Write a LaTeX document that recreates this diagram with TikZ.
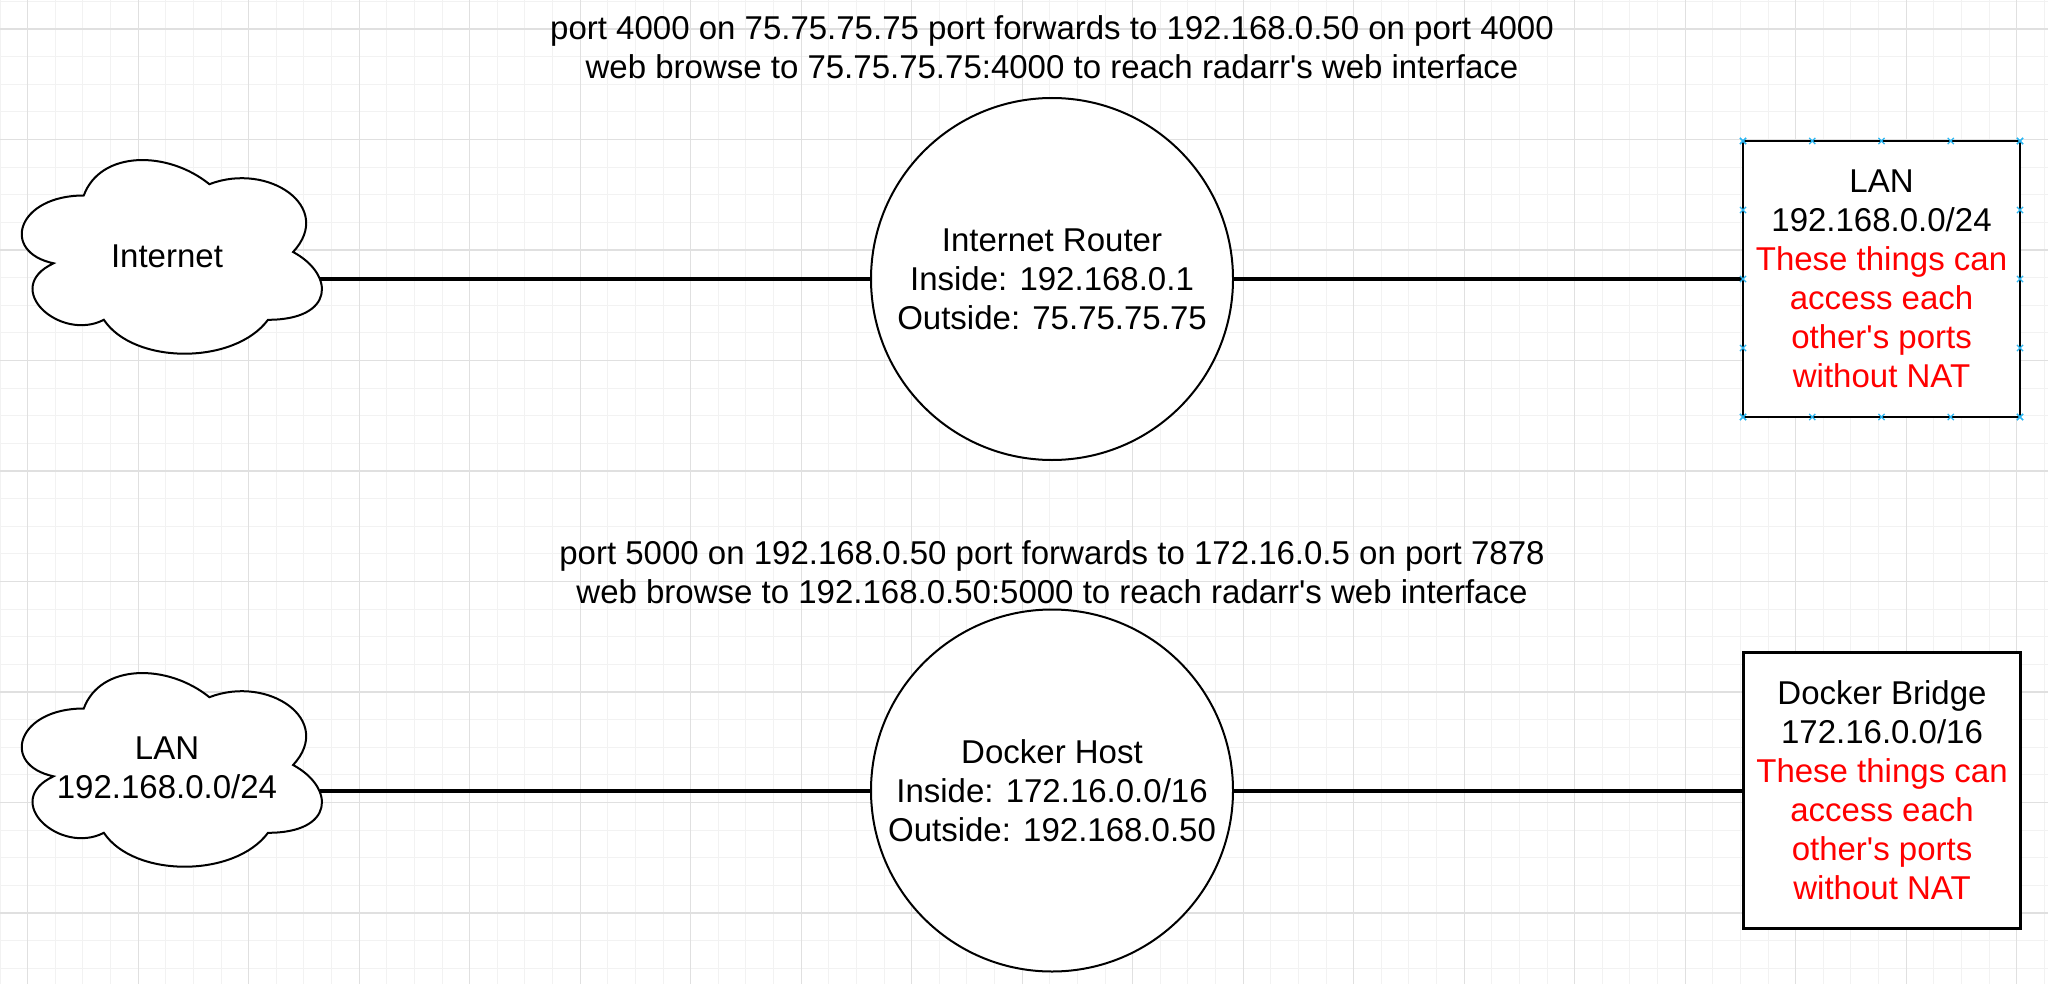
\documentclass[tikz,border=0pt]{standalone}
\usepackage{fontspec}
\newfontfamily\drawfont{Liberation Sans}
\usetikzlibrary{calc,shapes.misc}
\definecolor{selblue}{HTML}{29B6F2}
\tikzset{
  x=0.5pt, y=-0.5pt,
}
\tikzstyle{every node}=[font=\drawfont\fontsize{16.5}{19.5}\selectfont, align=center]
\tikzstyle{minorgrid}=[line width=0.5pt, black!5]
\tikzstyle{majorgrid}=[line width=0.7pt, black!12]
\tikzstyle{link}=[line width=2pt]
\tikzstyle{hub}=[draw, circle, line width=1pt, fill=white, minimum size=181pt, inner sep=0pt]
\tikzstyle{netbox}=[draw, line width=1.3pt, fill=white, minimum width=138.5pt, minimum height=138pt, inner sep=0pt, outer sep=0pt]
\tikzstyle{handle}=[draw=selblue, cross out, line width=0.6pt, minimum size=2.5pt, inner sep=0pt]

\newcommand{\nonat}{\textcolor{red}{These things can}\\\textcolor{red}{access each}\\
  \textcolor{red}{other\textquotesingle s ports}\\\textcolor{red}{without NAT}}

% draw.io style cloud, #1,#2 = top left of its box
\newcommand{\netcloud}[2]{%
  \draw[line width=1pt, fill=white, shift={(#1,#2)}] (83.75,56.5)
    .. controls (16.75,56.5) and (0,113) .. (53.6,124.3)
    .. controls (0,149.2) and (60.3,203.4) .. (103.85,180.8)
    .. controls (134,226) and (234.5,226) .. (268,180.8)
    .. controls (335,180.8) and (335,135.6) .. (293.1,113)
    .. controls (335,67.8) and (268,22.6) .. (209.4,45.2)
    .. controls (167.5,11.3) and (100.5,11.3) .. (83.75,56.5) -- cycle;}

\begin{document}
\begin{tikzpicture}
  \useasboundingbox (0,0) rectangle (2048,984);
  \fill[white] (0,0) rectangle (2048,984);
  % grid
  \foreach \i in {0,...,74} \draw[minorgrid] ({0.075+27.625*\i},0) -- ({0.075+27.625*\i},984);
  \foreach \j in {0,...,35} \draw[minorgrid] (0,{1.375+27.625*\j}) -- (2048,{1.375+27.625*\j});
  \foreach \i in {0,...,18} \draw[majorgrid] ({27.7+110.5*\i},0) -- ({27.7+110.5*\i},984);
  \foreach \j in {0,...,8} \draw[majorgrid] (0,{29+110.5*\j}) -- (2048,{29+110.5*\j});

  % top: internet side
  \node (fwdtop) at (1052,47.5) {port 4000 on 75.75.75.75 port forwards to 192.168.0.50 on port 4000\\
    web browse to 75.75.75.75:4000 to reach radarr's web interface};
  \netcloud{0}{139}
  \node (inet) at (167,256) {Internet};
  \coordinate (inetR) at (320,279);
  \node[hub] (router) at (1052,279) {Internet Router\\Inside: 192.168.0.1\\Outside: 75.75.75.75};
  \node[netbox] (lanbox) at (1881.5,279) {LAN\\192.168.0.0/24\\\nonat};
  \draw[link] (inetR) -- (router.west);
  \draw[link] (router.east) -- (lanbox.west);
  \foreach \a/\b in {north west/north east, south west/south east, north west/south west, north east/south east}
    \foreach \f in {0,0.25,0.5,0.75,1}
      \node[handle] at ($(lanbox.\a)!\f!(lanbox.\b)$) {};

  % bottom: docker side
  \node (fwdbot) at (1052,572) {port 5000 on 192.168.0.50 port forwards to 172.16.0.5 on port 7878\\
    web browse to 192.168.0.50:5000 to reach radarr's web interface};
  \netcloud{0}{652}
  \node (lan) at (167,768) {LAN\\192.168.0.0/24};
  \coordinate (lanR) at (320,790.5);
  \node[hub] (dhost) at (1052,790.5) {Docker Host\\Inside: 172.16.0.0/16\\Outside: 192.168.0.50};
  \node[netbox] (bridge) at (1882,790.5) {Docker Bridge\\172.16.0.0/16\\\nonat};
  \draw[link] (lanR) -- (dhost.west);
  \draw[link] (dhost.east) -- (bridge.west);
\end{tikzpicture}
\end{document}
